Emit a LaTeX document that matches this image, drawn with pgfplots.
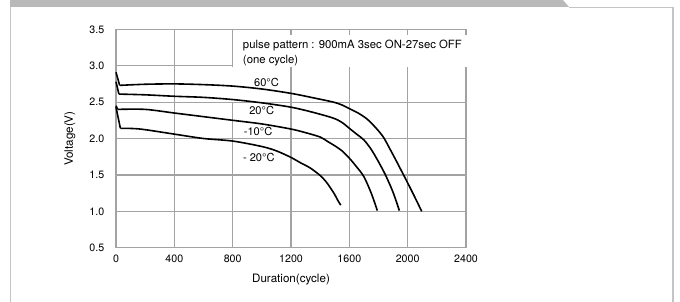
\documentclass[border=0pt]{standalone}
\usepackage{fontspec}
\setmainfont{TeX Gyre Heros}
\usepackage{pgfplots}
\pgfplotsset{compat=1.18}
\definecolor{gridgray}{HTML}{A3A3A3}
\definecolor{framegray}{HTML}{C4C4C4}
\definecolor{bargray}{HTML}{B9B9B9}
\begin{document}
\begin{tikzpicture}
\path[use as bounding box] (0,0) rectangle (510pt,-226.5pt);
\fill[bargray] (7.5pt,0pt) -- (422.25pt,0pt) -- (426.75pt,-5.25pt) -- (7.5pt,-5.25pt) -- cycle;
\draw[framegray, line width=0.8pt] (8pt,-5.25pt) -- (8pt,-226.5pt);
\draw[framegray, line width=0.8pt] (426.75pt,-5.6pt) -- (504.75pt,-5.6pt) -- (504.75pt,-226.5pt);
\begin{axis}[
  at={(87pt,-185.775pt)}, anchor=south west,
  scale only axis, width=262.5pt, height=163.8pt,
  xmin=0, xmax=2400, ymin=0.5, ymax=3.5,
  xtick={0,400,800,1200,1600,2000,2400},
  ytick={0.5,1.0,1.5,2.0,2.5,3.0,3.5},
  major tick length=0pt,
  grid=major,
  grid style={gridgray, line width=0.9pt},
  axis line style={gridgray, line width=0.9pt},
  clip=false,
  font=\fontsize{8}{9.6}\selectfont,
  /pgf/number format/assume math mode=true,
  yticklabel={\pgfmathprintnumber[fixed,fixed zerofill,precision=1]{\tick}},
  xticklabel={\pgfmathprintnumber[fixed,precision=0,set thousands separator={}]{\tick}},
  yticklabel style={xshift=-5.3pt},
  xticklabel style={yshift=-2pt},
  xlabel={Duration(cycle)},
  ylabel={Voltage(V)},
  label style={font=\fontsize{8.7}{10}\selectfont},
  xlabel style={at={(axis description cs:0.5,-0.1456)}, anchor=center},
  ylabel style={at={(axis description cs:-0.1314,0.5)}, anchor=center, rotate=0},
]
% white boxes masking the grid behind the annotations
\fill[white] (axis cs:802,2.982) rectangle (axis cs:2425,3.42);
\fill[white] (axis cs:789,2.505) rectangle (axis cs:1138,2.982);

% 60 C
\addplot[black, line width=1.2pt] coordinates {(0,2.91) (25,2.73)};
\addplot[black, line width=1.2pt, smooth] coordinates {
(25,2.73) (200,2.745) (400,2.75) (600,2.74) (800,2.72) (1000,2.68) (1200,2.62)
(1350,2.56) (1490,2.50) (1550,2.46) (1600,2.41) (1660,2.35) (1720,2.27) (1780,2.15)
(1833,2.02) (1880,1.85) (1920,1.70) (1960,1.545) (2000,1.39) (2050,1.19) (2096,1.0)};
% 20 C
\addplot[black, line width=1.2pt] coordinates {(0,2.78) (20,2.61)};
\addplot[black, line width=1.2pt, smooth] coordinates {
(20,2.61) (200,2.60) (400,2.58) (600,2.565) (800,2.535) (1000,2.49) (1200,2.43)
(1350,2.36) (1490,2.28) (1550,2.22) (1600,2.14) (1650,2.06) (1700,1.98) (1750,1.85)
(1800,1.68) (1850,1.49) (1900,1.26) (1943,1.01)};
% -10 C
\addplot[black, line width=1.2pt] coordinates {(0,2.45) (12,2.40)};
\addplot[black, line width=1.2pt, smooth] coordinates {
(12,2.40) (200,2.40) (400,2.35) (600,2.30) (800,2.25) (1000,2.20) (1200,2.13)
(1300,2.08) (1400,2.02) (1450,1.96) (1500,1.90) (1550,1.83) (1600,1.73) (1650,1.61)
(1700,1.475) (1750,1.25) (1792,1.01)};
% -20 C
\addplot[black, line width=1.2pt] coordinates {(0,2.43) (30,2.14)};
\addplot[black, line width=1.2pt, smooth] coordinates {
(30,2.14) (165,2.13) (400,2.06) (600,2.00) (800,1.965) (1000,1.89) (1100,1.83)
(1200,1.74) (1262,1.67) (1332,1.595) (1401,1.49) (1443,1.40) (1471,1.32)
(1499,1.233) (1521,1.15) (1541,1.085)};

\node[anchor=base west, inner sep=0pt, font=\fontsize{8.5}{10}\selectfont] at (axis cs:869,3.243) {pulse pattern : 900mA 3sec ON-27sec OFF};
\node[anchor=base west, inner sep=0pt, font=\fontsize{8.5}{10}\selectfont] at (axis cs:869,3.037) {(one cycle)};
\node[anchor=center, inner sep=0pt, font=\fontsize{8.3}{10}\selectfont] at (axis cs:1032,2.77) {60°C};
\node[anchor=center, inner sep=0pt, font=\fontsize{8.3}{10}\selectfont] at (axis cs:999,2.38) {20°C};
\node[anchor=center, inner sep=0pt, font=\fontsize{8.3}{10}\selectfont] at (axis cs:974,2.10) {-10°C};
\node[anchor=center, inner sep=0pt, font=\fontsize{8.3}{10}\selectfont] at (axis cs:979,1.74) {- 20°C};
\end{axis}
\end{tikzpicture}
\end{document}
